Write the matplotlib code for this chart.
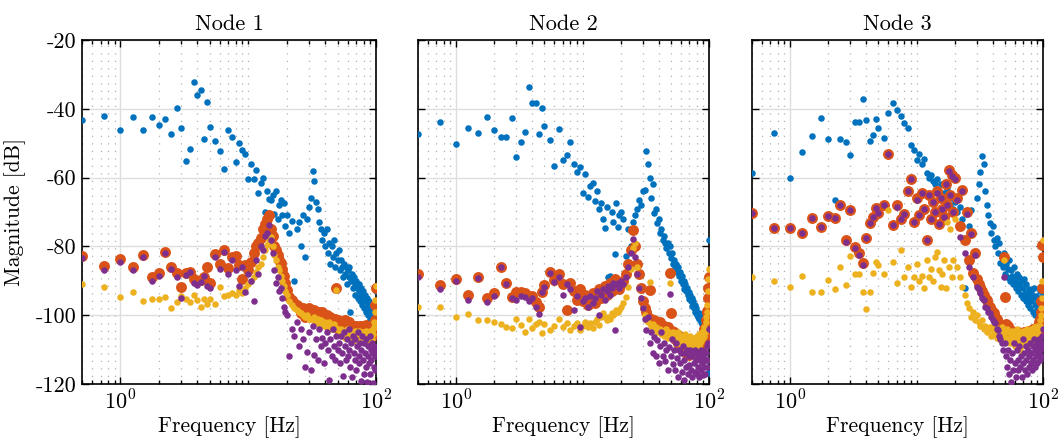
import matplotlib
matplotlib.use('Agg')
import matplotlib.pyplot as plt
from matplotlib.ticker import FixedLocator, NullFormatter

# frequency bins [Hz] (same for every node)
freq = [0.5, 0.75, 1.0, 1.25, 1.5, 1.75, 2.0, 2.25, 2.5, 2.75,
        3.0, 3.25, 3.5, 3.75, 4.0, 4.25, 4.5, 4.75, 5.0,
        5.5, 6.0, 6.5, 7.0, 7.5, 8.0, 8.5, 9.0, 9.5, 10.0,
        10.5, 11.0, 11.5, 12.0, 12.5, 13.0, 13.5, 14.0, 14.5, 15.0,
        15.5, 16.0, 16.5, 17.0, 17.5, 18.0, 18.5, 19.0, 19.5, 20.0,
        21, 22, 23, 24, 25, 26, 27, 28, 29, 30,
        31, 32, 33, 34, 35, 36, 37, 38, 39, 40,
        41, 42, 43, 44, 45, 46, 47, 48, 49, 50,
        51, 52, 53, 54, 55, 56, 57, 58, 59, 60,
        61, 62, 63, 64, 65, 66, 67, 68, 69, 70,
        71, 72, 73, 74, 75, 76, 77, 78, 79, 80,
        81, 82, 83, 84, 85, 86, 87, 88, 89, 90,
        91, 92, 93, 94, 95, 96, 97, 98, 99, 100]

# ---- Node 1 magnitudes [dB]
n1_blue = [-43.2, -42.1, -46.1, -42.5, -46.3, -42.5, -44.7, -42.9, -47.4, -39.8,
           -45.6, -55.3, -51.6, -32.1, -36.1, -34.5, -48.7, -38.1, -45.2,
           -49.4, -52.2, -57.4, -46.3, -48.3, -55.6, -49.8, -52.0, -53.2, -60.4,
           -56.1, -60.4, -57.8, -64.5, -61.6, -60.0, -69.9, -63.8, -66.2, -66.4,
           -65.0, -70.5, -64.0, -72.0, -68.0, -66.5, -71.0, -67.5, -74.0, -71.0,
           -76.0, -72.5, -90.0, -75.0, -73.0, -80.0, -71.0, -83.0, -72.0, -68.5,
           -66.0, -58.2, -61.0, -67.0, -69.0, -73.0, -75.0, -78.0, -76.0, -80.0,
           -75.0, -82.0, -79.0, -85.0, -80.0, -83.0, -78.0, -86.0, -82.0, -84.0,
           -81.0, -87.0, -84.0, -86.0, -89.0, -85.0, -88.0, -86.0, -91.0, -87.0,
           -89.0, -86.0, -99.0, -90.0, -88.0, -92.0, -89.0, -91.0, -94.0, -90.0,
           -92.0, -95.0, -91.0, -93.0, -96.0, -92.0, -94.0, -97.0, -93.0, -95.0,
           -98.0, -94.0, -96.0, -99.0, -95.0, -97.0, -100.0, -96.0, -98.0, -101.0,
           -97.0, -99.0, -102.0, -98.0, -100.0, -103.0, -99.0, -101.0, -97.0, -93.0]
n1_orange = [-82.7, -85.6, -83.7, -85.9, -82.5, -88.8, -87.8, -81.6, -86.1, -87.8,
             -91.7, -87.8, -87.3, -89.6, -90.2, -89.8, -88.9, -86.0, -90.7,
             -82.3, -85.0, -81.0, -86.4, -83.2, -82.8, -85.4, -89.6, -85.4, -87.0,
             -84.5, -82.0, -80.0, -79.0, -77.5, -75.0, -73.5, -72.0, -70.9, -75.0,
             -77.0, -80.0, -81.0, -82.5, -84.0, -84.8, -86.5, -88.5, -90.6, -92.7,
             -94.8, -95.6, -96.5, -97.0, -97.6, -99.5, -98.0, -100.5, -98.5, -98.0,
             -100.5, -99.0, -98.5, -101.0, -99.5, -99.0, -101.5, -99.2, -100.5, -102.0,
             -100.0, -101.0, -103.0, -100.5, -101.5, -103.5, -102.0, -101.0, -92.2, -101.5,
             -102.5, -104.5, -103.0, -102.0, -105.0, -103.0, -101.4, -104.5, -104.0, -102.0,
             -105.5, -102.0, -104.0, -106.0, -103.5, -105.0, -103.0, -106.0, -104.0, -103.0,
             -105.0, -103.5, -106.5, -104.5, -103.0, -105.0, -106.0, -103.0, -105.5, -104.0,
             -103.0, -106.0, -104.0, -102.8, -105.0, -106.5, -103.7, -105.5, -104.0, -103.0,
             -106.0, -104.0, -106.0, -103.0, -102.8, -105.0, -104.0, -101.4, -97.0, -92.2]
n1_yellow = [-91.0, -91.9, -94.8, -93.4, -96.0, -95.3, -95.3, -94.8, -98.0, -96.2,
             -94.3, -95.4, -96.3, -94.2, -95.6, -97.5, -95.2, -96.8, -95.2,
             -96.7, -91.7, -94.3, -94.0, -93.5, -94.2, -92.8, -93.5, -92.0, -91.0,
             -90.0, -89.0, -87.5, -86.0, -85.0, -83.0, -81.0, -79.5, -78.0, -77.4,
             -80.0, -82.5, -84.0, -86.0, -87.0, -88.5, -90.0, -91.5, -93.0, -94.0,
             -96.0, -97.0, -98.0, -98.5, -99.0, -99.5, -100.0, -100.5, -100.0, -101.0,
             -101.0, -101.5, -100.5, -102.0, -101.0, -102.5, -101.5, -102.0, -103.0, -102.0,
             -102.5, -103.0, -102.0, -103.5, -103.0, -104.0, -102.5, -103.5, -92.8, -104.0,
             -104.5, -105.5, -104.0, -106.0, -105.0, -104.5, -106.5, -105.0, -104.0, -106.0,
             -105.5, -107.0, -104.5, -106.0, -105.0, -107.5, -105.5, -104.5, -106.5, -105.0,
             -107.0, -106.0, -104.5, -106.5, -105.5, -107.0, -106.0, -105.0, -107.5, -106.0,
             -105.0, -107.0, -106.0, -104.5, -106.5, -105.5, -107.0, -105.0, -106.5, -104.5,
             -106.0, -105.0, -107.0, -104.0, -105.5, -103.5, -102.0, -99.0, -95.7, -91.5]
n1_purple = [-83.5, -86.9, -84.5, -86.9, -83.1, -90.0, -88.5, -82.0, -86.6, -88.8,
             -94.9, -88.2, -87.5, -90.6, -91.3, -90.3, -88.5, -91.5, -92.0,
             -83.0, -86.7, -81.5, -88.0, -84.0, -87.0, -91.5, -86.0, -93.4, -88.0,
             -90.0, -96.0, -84.0, -88.0, -80.0, -81.0, -77.0, -76.0, -73.8, -78.0,
             -82.0, -87.0, -90.5, -89.0, -93.0, -92.0, -95.0, -97.5, -99.0, -100.0,
             -112.0, -104.0, -106.0, -102.0, -109.0, -104.0, -107.0, -115.0, -110.8, -105.0,
             -116.0, -103.0, -111.6, -107.0, -113.0, -104.0, -109.0, -106.6, -114.0, -108.0,
             -105.0, -110.0, -118.8, -107.0, -112.0, -104.0, -109.0, -113.0, -106.0, -110.0,
             -108.0, -114.0, -106.0, -111.0, -117.8, -105.0, -109.0, -113.0, -107.0, -112.0,
             -104.0, -110.0, -115.0, -108.0, -118.0, -106.0, -111.0, -113.0, -107.0, -116.0,
             -109.0, -105.0, -112.0, -114.0, -108.0, -119.0, -110.0, -106.0, -113.0, -117.0,
             -108.0, -111.0, -115.0, -107.0, -119.5, -112.0, -109.0, -114.0, -106.0, -117.0,
             -110.0, -113.0, -108.0, -119.8, -111.0, -115.0, -109.0, -112.0, -116.0, -110.0]

# ---- Node 2 magnitudes [dB]
n2_blue = [-47.4, -43.7, -50.3, -45.7, -47.1, -42.5, -46.2, -48.1, -48.1, -42.8,
           -53.9, -49.6, -46.7, -33.8, -38.4, -38.4, -47.4, -39.9, -44.9,
           -49.1, -56.5, -45.8, -54.9, -53.4, -49.7, -56.0, -58.3, -57.0, -64.6,
           -59.0, -65.5, -62.5, -61.7, -66.8, -64.0, -69.0, -67.5, -72.0, -74.6,
           -68.5, -88.9, -88.5, -70.0, -73.0, -82.2, -67.5, -74.4, -71.0, -70.0,
           -72.0, -82.9, -75.0, -80.0, -73.0, -71.0, -69.0, -66.5, -68.0, -64.0,
           -63.6, -52.2, -56.0, -60.0, -66.0, -62.0, -70.3, -69.0, -73.3, -72.0,
           -76.2, -75.0, -78.0, -77.0, -79.0, -80.5, -79.0, -82.0, -80.0, -83.5,
           -82.0, -85.0, -84.0, -86.0, -85.0, -87.5, -86.0, -88.5, -87.5, -90.0,
           -88.5, -91.0, -90.0, -92.4, -91.0, -93.0, -92.0, -94.0, -93.4, -95.3,
           -94.0, -96.0, -95.0, -97.3, -96.0, -98.0, -97.0, -99.2, -98.0, -100.0,
           -99.0, -100.6, -99.5, -101.1, -100.0, -102.0, -101.0, -102.6, -101.5, -103.0,
           -102.0, -104.0, -103.0, -113.0, -104.0, -101.0, -106.0, -103.0, -116.7, -78.0]
n2_orange = [-88.1, -91.2, -89.6, -94.1, -88.8, -95.1, -93.5, -85.9, -90.7, -94.6,
             -93.4, -93.2, -93.6, -94.4, -94.5, -96.1, -97.7, -93.2, -91.2,
             -87.5, -89.9, -88.0, -91.0, -98.5, -90.5, -93.0, -95.5, -92.5, -96.0,
             -94.0, -97.0, -95.5, -93.5, -96.5, -94.5, -92.5, -95.0, -93.0, -91.5,
             -94.0, -92.0, -90.5, -93.0, -91.0, -89.5, -92.0, -91.0, -92.5, -91.0,
             -90.0, -88.0, -85.0, -81.0, -75.2, -80.0, -85.0, -88.0, -92.0, -96.0,
             -98.0, -99.0, -100.4, -92.7, -101.0, -102.3, -101.5, -102.0, -102.5, -103.0,
             -102.0, -103.5, -104.0, -103.0, -105.0, -104.0, -103.5, -105.0, -87.8, -99.4,
             -104.5, -106.0, -105.0, -107.0, -105.5, -106.5, -108.0, -106.0, -107.5, -109.0,
             -107.0, -108.5, -110.0, -107.5, -109.0, -111.0, -108.0, -110.0, -109.0, -111.5,
             -108.5, -110.0, -111.0, -109.0, -110.5, -108.0, -111.0, -109.5, -110.0, -108.0,
             -109.0, -110.5, -108.5, -107.0, -109.5, -108.0, -106.5, -108.0, -107.0, -105.5,
             -107.0, -104.0, -106.0, -103.0, -101.5, -99.0, -98.9, -95.0, -92.1, -88.8]
n2_yellow = [-97.7, -97.7, -100.6, -99.6, -101.3, -101.3, -102.0, -102.6, -103.4, -103.7,
             -101.0, -102.8, -105.0, -101.0, -103.7, -102.6, -102.0, -105.3, -102.6,
             -104.4, -103.2, -101.0, -103.4, -102.4, -104.3, -103.0, -102.4, -104.3, -103.0,
             -102.0, -103.5, -102.4, -103.8, -102.0, -101.0, -102.8, -100.5, -99.5, -100.5,
             -101.5, -100.4, -101.0, -99.5, -100.0, -99.5, -98.5, -99.0, -98.5, -97.5,
             -96.5, -94.6, -91.7, -86.5, -80.5, -79.0, -86.0, -92.0, -95.0, -98.0,
             -100.0, -101.5, -102.0, -90.4, -103.0, -102.5, -104.0, -103.5, -105.0, -104.5,
             -104.0, -105.5, -104.5, -106.0, -105.0, -104.0, -106.5, -105.0, -90.5, -105.5,
             -106.0, -105.0, -107.0, -105.5, -106.5, -108.0, -105.0, -107.0, -106.0, -108.5,
             -107.0, -106.0, -109.0, -107.5, -105.5, -108.0, -106.5, -110.0, -107.0, -108.5,
             -106.0, -109.0, -107.0, -108.0, -110.5, -106.5, -108.0, -109.5, -107.0, -106.0,
             -108.5, -107.0, -109.0, -105.5, -108.0, -106.5, -107.5, -105.0, -106.5, -104.5,
             -106.0, -103.5, -105.0, -102.0, -100.5, -99.0, -97.0, -93.0, -89.5, -86.5]
n2_purple = [-88.8, -92.5, -90.1, -95.6, -89.3, -96.2, -94.4, -86.1, -91.0, -95.1,
             -95.6, -94.5, -94.6, -95.8, -94.9, -97.5, -99.7, -93.2, -91.8,
             -87.7, -90.3, -88.9, -94.0, -91.0, -92.5, -98.5, -94.5, -103.3, -96.0,
             -95.0, -97.5, -94.5, -96.5, -95.0, -93.0, -100.0, -94.0, -92.5, -95.5,
             -93.0, -91.5, -94.0, -92.0, -90.5, -104.3, -91.0, -90.5, -92.0, -90.0,
             -91.0, -89.0, -86.0, -82.0, -77.9, -83.0, -88.0, -92.0, -95.0, -98.0,
             -101.0, -104.3, -100.5, -108.0, -105.0, -111.0, -106.4, -112.0, -107.2, -114.0,
             -109.0, -105.0, -111.8, -108.0, -113.4, -110.0, -116.0, -109.2, -93.8, -112.0,
             -107.0, -114.1, -110.0, -116.0, -108.0, -112.5, -118.0, -110.0, -114.0, -111.0,
             -116.5, -109.0, -113.0, -118.9, -111.0, -115.0, -110.0, -117.0, -112.0, -114.5,
             -110.0, -116.0, -112.0, -118.0, -111.0, -114.0, -116.5, -110.0, -113.0, -117.0,
             -111.0, -115.0, -112.0, -118.0, -113.0, -116.0, -110.0, -114.0, -117.5, -112.0,
             -115.0, -110.5, -117.0, -113.0, -111.0, -115.0, -109.0, -113.0, -108.0, -104.0]

# ---- Node 3 magnitudes [dB]
n3_blue = [-58.8, -47.1, -60.2, -52.5, -47.9, -42.6, -48.9, -66.5, -48.8, -49.7,
           -53.4, -43.7, -43.7, -37.2, -43.3, -49.3, -47.6, -43.1, -45.5,
           -48.6, -41.3, -38.3, -40.3, -42.0, -44.0, -45.6, -50.5, -52.0, -55.0,
           -53.0, -56.0, -54.5, -58.8, -60.0, -59.2, -61.0, -62.0, -60.5, -64.0,
           -62.0, -66.0, -64.5, -67.5, -63.0, -65.0, -68.0, -66.0, -69.0, -67.0,
           -70.0, -68.5, -72.0, -92.0, -70.0, -74.0, -69.4, -76.0, -82.5, -66.0,
           -62.0, -58.4, -53.6, -56.0, -64.0, -68.0, -71.0, -73.3, -76.0, -74.0,
           -78.1, -80.0, -77.5, -82.0, -79.0, -84.9, -83.0, -86.0, -82.0, -88.0,
           -85.0, -89.0, -86.5, -84.0, -90.0, -87.0, -88.5, -91.0, -86.0, -89.5,
           -92.0, -88.0, -90.5, -93.0, -89.0, -91.5, -94.0, -90.0, -95.0, -92.0,
           -89.5, -93.5, -96.0, -91.0, -94.0, -97.0, -92.5, -95.0, -98.0, -93.0,
           -96.0, -94.0, -99.0, -95.0, -92.0, -97.0, -100.0, -94.5, -96.5, -98.5,
           -95.0, -100.6, -97.0, -93.0, -99.0, -96.0, -101.0, -95.6, -98.0, -94.0]
n3_orange = [-70.4, -74.7, -74.7, -76.0, -71.6, -74.4, -71.2, -71.6, -68.1, -78.1,
             -69.5, -80.1, -82.0, -84.9, -77.5, -73.3, -71.5, -68.9, -70.4,
             -68.1, -53.1, -73.8, -68.0, -72.0, -70.5, -64.0, -60.5, -73.0, -66.0,
             -71.0, -64.6, -69.0, -78.1, -65.0, -72.0, -67.0, -70.0, -64.0, -73.5,
             -66.0, -69.0, -71.5, -62.0, -68.0, -57.8, -65.0, -59.2, -70.0, -60.0,
             -66.0, -74.0, -63.6, -78.0, -70.0, -84.0, -76.0, -87.7, -82.0, -89.5,
             -91.0, -91.7, -93.0, -94.0, -95.0, -95.6, -97.0, -97.5, -98.5, -99.0,
             -99.5, -100.5, -101.0, -102.0, -102.5, -103.0, -103.5, -103.5, -83.0, -94.6,
             -102.5, -104.0, -103.0, -105.0, -104.3, -106.0, -104.5, -105.5, -107.0, -105.0,
             -106.5, -108.1, -106.0, -105.0, -107.5, -106.0, -108.0, -105.5, -107.0, -106.5,
             -105.0, -107.5, -106.0, -108.0, -105.5, -107.0, -106.0, -104.5, -106.5, -105.0,
             -107.0, -105.5, -104.0, -106.0, -105.0, -107.0, -104.0, -106.5, -105.0, -103.5,
             -105.0, -104.0, -102.0, -104.5, -101.0, -99.0, -96.0, -92.0, -79.6, -83.0]
n3_yellow = [-88.8, -90.2, -91.9, -88.5, -93.3, -93.3, -89.8, -92.4, -86.1, -91.1,
             -82.8, -88.1, -88.1, -93.3, -98.2, -93.3, -87.7, -84.4, -85.4,
             -88.0, -69.4, -84.4, -90.6, -81.0, -89.0, -86.0, -91.7, -88.8, -85.0,
             -90.0, -88.5, -92.0, -84.0, -89.0, -86.5, -90.0, -83.0, -81.5, -87.0,
             -91.7, -88.0, -84.0, -92.0, -73.0, -86.0, -75.0, -88.8, -84.0, -72.0,
             -86.0, -89.0, -91.7, -94.0, -96.5, -98.0, -100.4, -99.0, -101.5, -100.0,
             -102.0, -103.0, -101.5, -104.0, -103.0, -105.0, -104.5, -103.5, -106.0, -104.0,
             -105.5, -103.0, -106.5, -104.5, -107.0, -105.0, -103.5, -106.0, -84.0, -105.0,
             -106.5, -104.0, -107.5, -105.0, -108.0, -106.0, -104.5, -107.0, -105.5, -109.0,
             -106.0, -104.0, -108.0, -105.5, -107.0, -110.0, -105.0, -106.5, -108.5, -104.5,
             -107.0, -105.5, -109.0, -106.0, -104.0, -107.5, -105.0, -108.0, -106.5, -104.0,
             -106.0, -108.5, -105.0, -107.0, -103.5, -106.0, -104.5, -107.0, -105.0, -103.0,
             -105.5, -104.0, -106.5, -103.0, -101.5, -100.0, -98.0, -95.0, -90.0, -78.0]
n3_purple = [-70.4, -74.7, -74.7, -76.0, -71.6, -74.4, -71.2, -71.6, -68.1, -78.6,
             -69.5, -80.6, -82.5, -85.3, -77.5, -73.3, -71.5, -68.9, -70.4,
             -68.1, -53.1, -73.8, -68.5, -72.0, -70.5, -64.0, -60.5, -73.0, -66.5,
             -71.0, -64.6, -69.0, -78.1, -65.0, -72.0, -67.0, -70.0, -64.5, -73.5,
             -66.0, -69.0, -71.5, -62.0, -68.0, -58.0, -65.0, -59.5, -70.0, -60.5,
             -66.5, -77.2, -64.0, -82.0, -70.5, -86.0, -76.5, -88.8, -82.5, -91.7,
             -92.5, -93.6, -95.0, -95.5, -97.5, -98.0, -99.0, -99.4, -100.5, -101.4,
             -102.0, -102.3, -104.0, -104.3, -106.0, -107.0, -108.1, -110.0, -88.8, -108.1,
             -112.0, -115.0, -110.0, -117.0, -113.0, -119.5, -111.0, -116.0, -108.0, -114.0,
             -118.0, -110.0, -113.0, -116.0, -109.0, -115.0, -112.0, -118.0, -107.0, -114.0,
             -111.0, -116.0, -109.0, -113.0, -117.0, -110.0, -115.0, -112.0, -108.0, -114.0,
             -111.0, -116.0, -109.0, -113.0, -107.0, -115.0, -110.0, -112.0, -108.0, -114.0,
             -109.0, -111.0, -107.0, -113.0, -110.0, -108.0, -112.0, -106.0, -109.0, -104.0]

titles = ['Node 1', 'Node 2', 'Node 3']
yticks = [-120, -100, -80, -60, -40, -20]
ytick_labels = ['-120', '-100', '-80', '-60', '-40', '-20']
minor_x = [0.5, 0.6, 0.7, 0.8, 0.9, 2, 3, 4, 5, 6, 7, 8, 9, 10,
           20, 30, 40, 50, 60, 70, 80, 90]

plt.rcParams['font.family'] = 'cmr10'
plt.rcParams['mathtext.fontset'] = 'cm'
plt.rcParams['axes.unicode_minus'] = False
plt.rcParams['axes.formatter.use_mathtext'] = True
FS_TICK = 16
FS_LABEL = 15.5
FS_TITLE = 16

c_blue = '#0072BD'
c_orange = '#D95319'
c_yellow = '#EDB120'
c_purple = '#7E2F8E'

fig = plt.figure(figsize=(10.61, 4.42), dpi=100)
W, H = 1061.0, 442.0
lefts = [82, 418, 752]
widths = [294, 291, 291]
nodes = [(n1_blue, n1_orange, n1_yellow, n1_purple),
         (n2_blue, n2_orange, n2_yellow, n2_purple),
         (n3_blue, n3_orange, n3_yellow, n3_purple)]

for i in range(3):
    ax = fig.add_axes([lefts[i] / W, 58 / H, widths[i] / W, 344 / H])
    blue, orange, yellow, purple = nodes[i]
    ax.scatter(freq, blue, s=22, color=c_blue, linewidths=0, zorder=3)
    ax.scatter(freq, orange, s=62, color=c_orange, linewidths=0, zorder=4)
    ax.scatter(freq, yellow, s=22, color=c_yellow, linewidths=0, zorder=5)
    ax.scatter(freq, purple, s=22, color=c_purple, linewidths=0, zorder=6)

    ax.set_xscale('log')
    ax.set_xlim(0.5, 100)
    ax.set_ylim(-120, -20)
    ax.xaxis.set_major_locator(FixedLocator([1, 100]))
    ax.xaxis.set_minor_locator(FixedLocator(minor_x))
    ax.xaxis.set_minor_formatter(NullFormatter())
    ax.set_xticklabels(['$10^{0}$', '$10^{2}$'], fontsize=FS_TICK)
    ax.set_yticks(yticks)
    if i == 0:
        ax.set_yticklabels(ytick_labels, fontsize=FS_TICK)
        ax.set_ylabel('Magnitude [dB]', fontsize=FS_LABEL, labelpad=7)
    else:
        ax.set_yticklabels([])

    ax.grid(which='major', color='#dedede', linewidth=1.0)
    ax.grid(which='minor', axis='x', color='#b0b0b0', linewidth=0.9,
            linestyle=(0, (1, 5)))
    ax.set_axisbelow(True)
    ax.tick_params(which='both', direction='in', top=True, right=True,
                   width=1.0, pad=4)
    ax.tick_params(which='major', length=5)
    ax.tick_params(which='minor', length=3)
    for sp in ax.spines.values():
        sp.set_linewidth(1.2)

    ax.set_xlabel('Frequency [Hz]', fontsize=FS_LABEL, labelpad=2)
    ax.set_title(titles[i], fontsize=FS_TITLE, pad=7)

fig.savefig('out.png', dpi=100)
